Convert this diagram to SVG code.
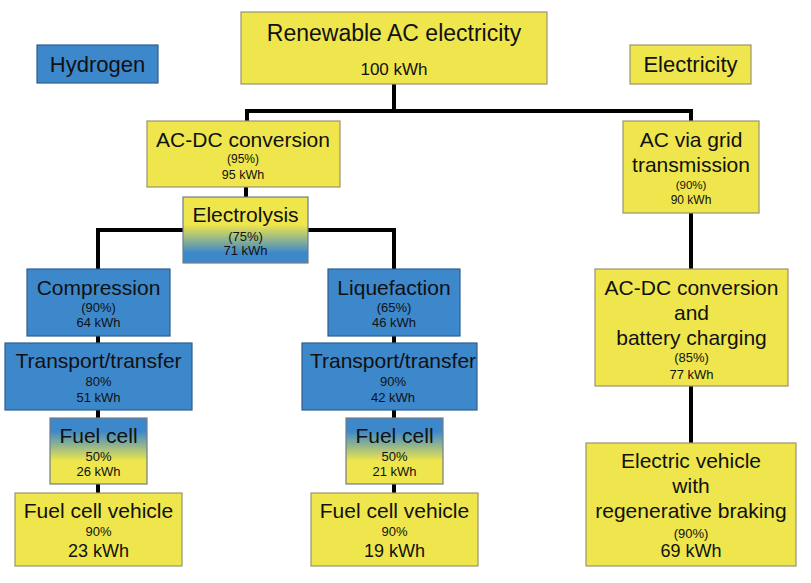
<svg xmlns="http://www.w3.org/2000/svg" width="811" height="583" viewBox="0 0 811 583">
<defs>
<linearGradient id="gYB" x1="0" y1="0" x2="0" y2="1">
<stop offset="0" stop-color="#EEE64C"/><stop offset="0.42" stop-color="#EEE64C"/><stop offset="0.85" stop-color="#3D87CB"/><stop offset="1" stop-color="#3D87CB"/>
</linearGradient>
<linearGradient id="gBY" x1="0" y1="0" x2="0" y2="1">
<stop offset="0" stop-color="#3D87CB"/><stop offset="0.2" stop-color="#3D87CB"/><stop offset="0.65" stop-color="#EEE64C"/><stop offset="1" stop-color="#EEE64C"/>
</linearGradient>
</defs>
<style>
text{font-family:"Liberation Sans",Arial,sans-serif;fill:#111;text-anchor:middle}
.y{fill:#EEE64C;stroke:#9A9470;stroke-width:1.2}
.b{fill:#3D87CB;stroke:#2D5F8E;stroke-width:1.2}
.yb{fill:url(#gYB);stroke:#6F7C8A;stroke-width:1.2}
.by{fill:url(#gBY);stroke:#6F7C8A;stroke-width:1.2}
.t{font-size:21px}
.T{font-size:23px}
.s{font-size:13px}
.m{font-size:18px}
.c{stroke:#000;stroke-width:4;fill:none}
</style>
<rect width="811" height="583" fill="#fff"/>
<g id="connectors">
<path class="c" d="M394 84V111M247 121V111H691V121"/>
<path class="c" d="M246 187V197"/>
<path class="c" d="M183 230H98V269M308 230H394V269"/>
<path class="c" d="M98 336V343M394 336V343M98 410V418M394 410V418M98 484V493M394 484V493"/>
<path class="c" d="M691 213V269M691 386V443"/>
</g>
<g id="renewable"><rect class="y" x="241" y="12" width="306" height="72"/><text class="T" x="394" y="41">Renewable AC electricity</text><text x="394" y="75" font-size="17">100 kWh</text></g>
<g id="hydrogen"><rect class="b" x="37" y="45" width="121" height="38"/><text x="97.5" y="72" font-size="22">Hydrogen</text></g>
<g id="electricity"><rect class="y" x="630" y="45" width="121" height="39"/><text x="690.5" y="72" font-size="22">Electricity</text></g>
<g id="acdc1"><rect class="y" x="147" y="121" width="193" height="66"/><text class="t" x="243" y="147">AC-DC conversion</text><text x="243" y="163" font-size="12">(95%)</text><text x="243" y="179" font-size="12.5">95 kWh</text></g>
<g id="electrolysis"><rect class="yb" x="183" y="197" width="125" height="66"/><text class="t" x="245.5" y="222">Electrolysis</text><text class="s" x="245.5" y="241">(75%)</text><text class="s" x="245.5" y="255">71 kWh</text></g>
<g id="compression"><rect class="b" x="27" y="269" width="143" height="67"/><text class="t" x="98.5" y="295">Compression</text><text class="s" x="98.5" y="312">(90%)</text><text class="s" x="98.5" y="327">64 kWh</text></g>
<g id="liquefaction"><rect class="b" x="328" y="269" width="132" height="67"/><text class="t" x="394" y="295">Liquefaction</text><text class="s" x="394" y="312">(65%)</text><text class="s" x="394" y="327">46 kWh</text></g>
<g id="transport1"><rect class="b" x="5" y="343" width="187" height="67"/><text class="t" x="98.5" y="368">Transport/transfer</text><text class="s" x="98.5" y="386">80%</text><text class="s" x="98.5" y="402">51 kWh</text></g>
<g id="transport2"><rect class="b" x="302" y="343" width="175" height="67"/><text class="t" x="393" y="368">Transport/transfer</text><text class="s" x="393" y="386">90%</text><text class="s" x="393" y="402">42 kWh</text></g>
<g id="fuelcell1"><rect class="by" x="50" y="418" width="97" height="66"/><text class="t" x="98.5" y="443">Fuel cell</text><text class="s" x="98.5" y="461">50%</text><text class="s" x="98.5" y="476">26 kWh</text></g>
<g id="fuelcell2"><rect class="by" x="346" y="418" width="97" height="66"/><text class="t" x="394.5" y="443">Fuel cell</text><text class="s" x="394.5" y="461">50%</text><text class="s" x="394.5" y="476">21 kWh</text></g>
<g id="fcv1"><rect class="y" x="15" y="493" width="167" height="73"/><text class="t" x="98.5" y="518">Fuel cell vehicle</text><text class="s" x="98.5" y="536">90%</text><text class="m" x="98.5" y="557">23 kWh</text></g>
<g id="fcv2"><rect class="y" x="311" y="493" width="167" height="73"/><text class="t" x="394.5" y="518">Fuel cell vehicle</text><text class="s" x="394.5" y="536">90%</text><text class="m" x="394.5" y="557">19 kWh</text></g>
<g id="grid"><rect class="y" x="623" y="121" width="136" height="92"/><text class="t" x="691" y="147">AC via grid</text><text class="t" x="691" y="172">transmission</text><text x="691" y="189" font-size="11.5">(90%)</text><text x="691" y="204" font-size="12">90 kWh</text></g>
<g id="acdc2"><rect class="y" x="595" y="269" width="193" height="117"/><text class="t" x="691.5" y="295">AC-DC conversion</text><text class="t" x="691.5" y="320">and</text><text class="t" x="691.5" y="345">battery charging</text><text class="s" x="691.5" y="362">(85%)</text><text class="s" x="691.5" y="379">77 kWh</text></g>
<g id="ev"><rect class="y" x="586" y="443" width="210" height="123"/><text class="t" x="691" y="468">Electric vehicle</text><text class="t" x="691" y="493">with</text><text class="t" x="691" y="518">regenerative braking</text><text class="s" x="691" y="538">(90%)</text><text class="m" x="691" y="557">69 kWh</text></g>
</svg>
